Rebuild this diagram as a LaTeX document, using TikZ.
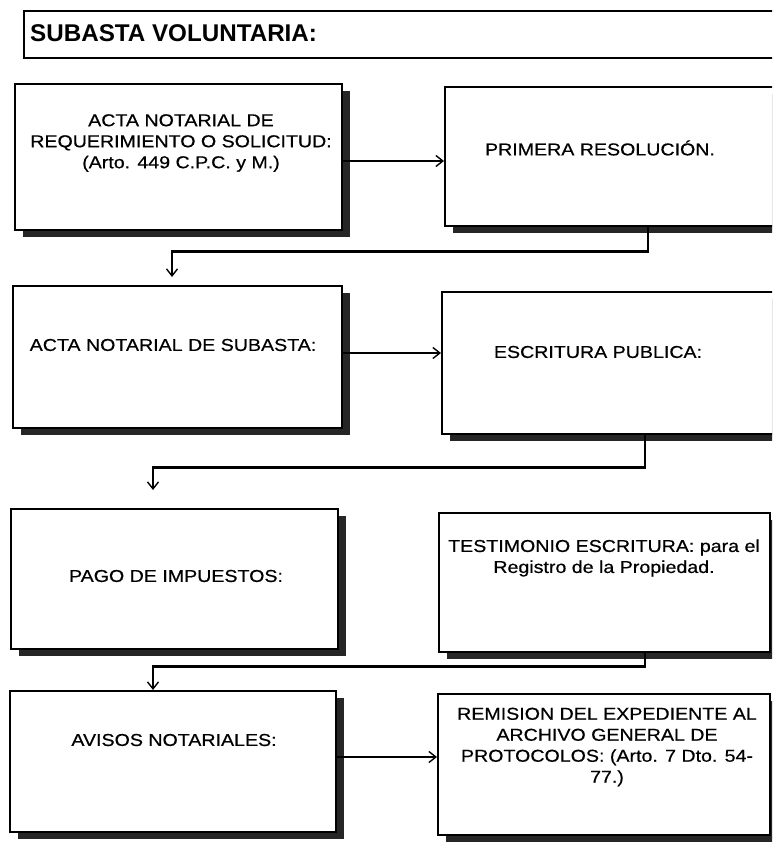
\documentclass[tikz,border=0pt]{standalone}
\usepackage{fontspec}
\setmainfont{Liberation Sans}
\newfontfamily\boxfont[FakeStretch=1.14,FakeBold=0.5]{Liberation Sans}
\newfontfamily\ttlfont{Liberation Sans}
\usetikzlibrary{arrows.meta,shadows,calc}
\begin{document}
\begin{tikzpicture}[x=1pt,y=-1pt,
  frame/.style={draw=black, line width=1.6pt, fill=white, inner sep=0pt, anchor=north west,
    drop shadow={shadow xshift=8pt, shadow yshift=-7pt, fill=black!85, opacity=1}},
  ttlbox/.style={draw=black, line width=1.9pt, fill=white, inner sep=0pt, anchor=north west},
  txt/.style={font=\boxfont\fontsize{17.2}{21}\selectfont, align=center, inner sep=0pt},
  ttl/.style={font=\ttlfont\bfseries\fontsize{24.2}{28}\selectfont, inner sep=0pt, anchor=west},
  harrow/.style={line width=1.3pt, -{Straight Barb[length=7pt,width=11pt,line width=1.4pt]}},
  conn/.style={line width=2.6pt, -{Straight Barb[length=7pt,width=11pt,line width=1.4pt]}}
]
\useasboundingbox (0,0) rectangle (772,842);
\fill[white] (0,0) rectangle (772,842);
\clip (0,0) rectangle (772,842);

% title
\node[ttlbox, minimum width=800pt, minimum height=47pt] (title) at (23,10) {};
\node[ttl] (ttltext) at (30,33) {SUBASTA VOLUNTARIA:};

% boxes
\node[frame, minimum width=327pt, minimum height=146pt] (b1) at (14,83) {};
\node[frame, minimum width=346pt, minimum height=139pt] (b2) at (444,86) {};
\node[frame, minimum width=329pt, minimum height=142pt] (b3) at (12,285) {};
\node[frame, minimum width=349pt, minimum height=142pt] (b4) at (441,291) {};
\node[frame, minimum width=327pt, minimum height=140pt] (b5) at (10,508) {};
\node[frame, minimum width=331pt, minimum height=139pt] (b6) at (438,512) {};
\node[frame, minimum width=326pt, minimum height=141pt] (b7) at (9,690) {};
\node[frame, minimum width=332pt, minimum height=141pt] (b8) at (437,693) {};

% texts
\node[txt] (t1) at (181,143) {ACTA NOTARIAL DE\\REQUERIMIENTO O SOLICITUD:\\(Arto. 449 C.P.C. y M.)};
\node[txt] (t2) at (600,148) {PRIMERA RESOLUCIÓN.};
\node[txt] (t3) at (173,345) {ACTA NOTARIAL DE SUBASTA:};
\node[txt] (t4) at (598,352) {ESCRITURA PUBLICA:};
\node[txt] (t5) at (176,576) {PAGO DE IMPUESTOS:};
\node[txt] (t6) at (604,558) {TESTIMONIO ESCRITURA: para el\\Registro de la Propiedad.};
\node[txt] (t7) at (174,740) {AVISOS NOTARIALES:};
\node[txt] (t8) at (607,747) {REMISION DEL EXPEDIENTE AL\\ARCHIVO GENERAL DE\\PROTOCOLOS: (Arto. 7 Dto. 54-\\77.)};

% helper coordinates
\coordinate (k1) at (648,0);
\coordinate (k2) at (645,0);
\coordinate (a3) at (172,277);
\coordinate (a5) at (153,490);
\coordinate (a7) at (153,0);

% horizontal arrows
\draw[harrow] (b1.east |- 0,161) -- (b2.west |- 0,161);
\draw[harrow] (b3.east |- 0,353) -- (b4.west |- 0,353);
\draw[harrow] (b7.east |- 0,757) -- (b8.west |- 0,757);

% connectors
\draw[conn] (b2.south -| k1) -- ++(0,25) -| (a3);
\draw[conn] (b4.south -| k2) -- ++(0,33) -| (a5);
\draw[conn] (b6.south -| k2) -- ++(0,14) -| (b7.north -| a7);
\end{tikzpicture}
\end{document}
